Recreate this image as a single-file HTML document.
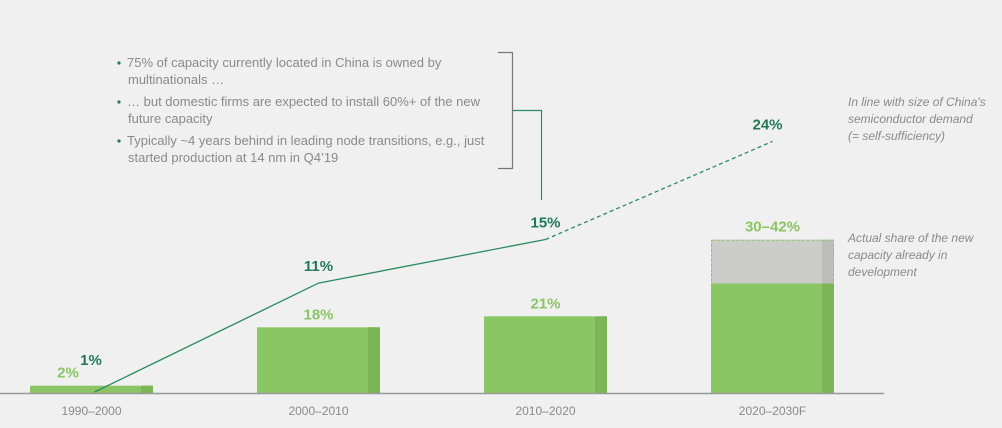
<!DOCTYPE html>
<html><head><meta charset="utf-8"><style>
html,body{margin:0;padding:0;background:#f0f0f0;}
svg{display:block;font-family:"Liberation Sans",sans-serif;}
</style></head><body>
<svg id="chart" width="1002" height="428" viewBox="0 0 1002 428">
<rect width="1002" height="428" fill="#f0f0f0"/>
<g id="notes" font-size="13" fill="#8a8a8a">
<circle cx="119" cy="63" r="1.6" fill="#1f7a5a"/>
<text x="127" y="67">75% of capacity currently located in China is owned by</text>
<text x="128" y="84">multinationals …</text>
<circle cx="119" cy="102" r="1.6" fill="#1f7a5a"/>
<text x="127" y="106">… but domestic firms are expected to install 60%+ of the new</text>
<text x="128" y="123">future capacity</text>
<circle cx="119" cy="141" r="1.6" fill="#1f7a5a"/>
<text x="127" y="145">Typically ~4 years behind in leading node transitions, e.g., just</text>
<text x="128" y="162">started production at 14 nm in Q4’19</text>
<polyline points="498,52.5 512.5,52.5 512.5,168.5 498,168.5" fill="none" stroke="#777" stroke-width="1.2"/>
<polyline points="513,110.5 541.5,110.5 541.5,200" fill="none" stroke="#2a8a66" stroke-width="1.2"/>
</g>
<g font-size="12" font-style="italic" fill="#8a8a8a">
<text x="848" y="106">In line with size of China's</text>
<text x="848" y="123">semiconductor demand</text>
<text x="848" y="140">(= self-sufficiency)</text>
<text x="848" y="242">Actual share of the new</text>
<text x="848" y="259">capacity already in</text>
<text x="848" y="276">development</text>
</g>
<g id="plot"></g>
</svg>
<script>
const categories=["1990–2000","2000–2010","2010–2020","2020–2030F"];
const barValues=[2,18,21,30];
const barUpper=[null,null,null,42];
const barLabels=["2%","18%","21%","30–42%"];
const lineValues=[1,11,15,24];
const lineLabels=["1%","11%","15%","24%"];

const NS="http://www.w3.org/2000/svg";
const g=document.getElementById('plot');
const base=393;
const xCenter=i=>91.5+i*227;
const yBar=v=>base-v*3.65;
const yLine=v=>base-v*10.9+10;
const barW=123;
function el(t,a){const e=document.createElementNS(NS,t);for(const k in a)e.setAttribute(k,a[k]);g.appendChild(e);return e;}

categories.forEach((c,i)=>{
  const x0=xCenter(i)-barW/2;
  const topV=barUpper[i]!=null?barUpper[i]:barValues[i];
  if(barUpper[i]!=null){
    const u=el('rect',{x:x0,y:yBar(barUpper[i]),width:barW,height:yBar(barValues[i])-yBar(barUpper[i]),fill:'#cccccb'});
    
    
    const us=el('rect',{x:x0+barW-12,y:yBar(barUpper[i]),width:12,height:yBar(barValues[i])-yBar(barUpper[i]),fill:'#bdbdbc'});
    
    
    const ub=el('rect',{x:x0+0.5,y:yBar(barUpper[i])+0.5,width:barW-1,height:yBar(barValues[i])-yBar(barUpper[i]),fill:'none',stroke:'#8cc66a','stroke-dasharray':'3,2'});
    
    
  }
  const b=el('rect',{x:x0,y:yBar(barValues[i]),width:barW,height:base-yBar(barValues[i]),fill:'#8ac663'});
  
  
  const s=el('rect',{x:x0+barW-12,y:yBar(barValues[i]),width:12,height:base-yBar(barValues[i]),fill:'#7cb555'});
  
  
  const bl=el('text',{x:i==0?68:xCenter(i),y:yBar(topV)-8,'text-anchor':'middle','font-size':15,'font-weight':'bold',fill:'#8ac663'});
  bl.textContent=barLabels[i];
  
  
  const cl=el('text',{x:xCenter(i),y:415,'text-anchor':'middle','font-size':12,fill:'#8a8a8a'});
  cl.textContent=c;
  
  
});
const ax=el('line',{x1:0,x2:884,y1:base+0.5,y2:base+0.5,stroke:'#999','stroke-width':1.5});



const pts=lineValues.map((v,i)=>[xCenter(i)+(i==0?3:0),yLine(v)]);
const solid=el('polyline',{points:pts.slice(0,3).map(p=>p.join(',')).join(' '),fill:'none',stroke:'#2a8a66','stroke-width':1.3});


const dash=el('line',{x1:pts[2][0],y1:pts[2][1],x2:pts[3][0],y2:pts[3][1],stroke:'#2a8a66','stroke-width':1.3,'stroke-dasharray':'4,3'});


lineValues.forEach((v,i)=>{
  const t=el('text',{x:i==0?91:pts[i][0]-(i==3?5:0),y:i==0?365:pts[i][1]-12,'text-anchor':'middle','font-size':15,'font-weight':'bold',fill:'#1f7a5a'});
  t.textContent=lineLabels[i];
  
  
});
</script>
</body></html>
